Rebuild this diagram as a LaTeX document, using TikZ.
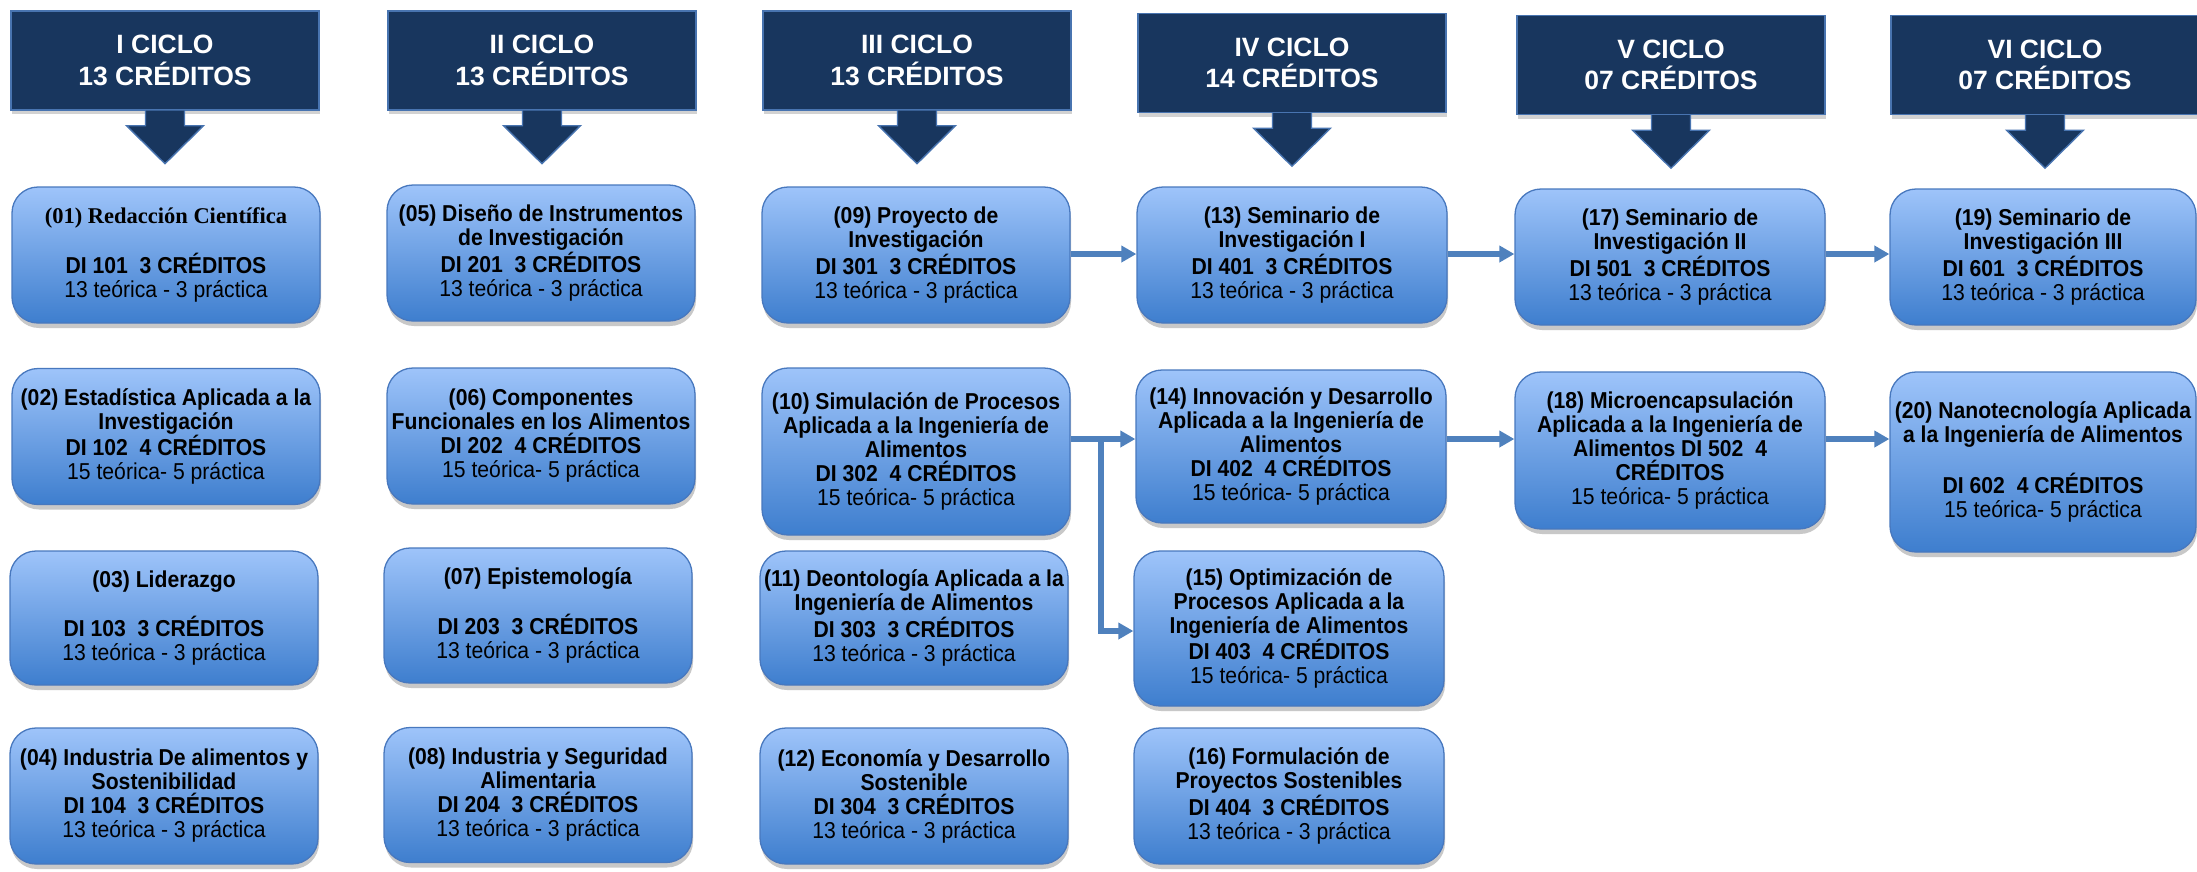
\documentclass[tikz,border=0pt]{standalone}
\usepackage{fontspec}
\setmainfont{Liberation Sans}[FakeStretch=0.92]
\newfontfamily\hdrfont{Liberation Sans}
\newfontfamily\serifb{Liberation Serif}
\usetikzlibrary{shadows,arrows.meta,calc}
\definecolor{navy}{RGB}{24,54,94}
\definecolor{navyedge}{RGB}{72,116,176}
\definecolor{boxtop}{RGB}{158,196,250}
\definecolor{boxbot}{RGB}{62,126,206}
\definecolor{boxedge}{RGB}{72,120,190}
\definecolor{conncol}{RGB}{79,129,189}
\tikzset{
  hdr/.style={draw=navyedge, line width=1.4pt, fill=navy, text=white,
    font=\hdrfont\bfseries\fontsize{26.5}{31.7}\selectfont, align=center,
    minimum width=308pt, minimum height=99pt, inner sep=0pt,
    drop shadow={shadow xshift=1pt, shadow yshift=-4pt, opacity=0.25, fill=black!70}},
  hdrarrow/.style={draw=navyedge, line width=1.4pt, fill=navy, line join=miter},
  course/.style={draw=boxedge, line width=1.3pt, rounded corners=26pt,
    top color=boxtop, bottom color=boxbot, align=center,
    font=\fontsize{23}{24}\selectfont, inner sep=2pt,
    minimum width=308pt,
    drop shadow={shadow xshift=1pt, shadow yshift=-5pt, opacity=0.3, fill=black!70}},
  link/.style={draw=conncol, line width=6pt, -{Triangle[length=15pt,width=16pt]}}
}
\newcommand\dropArrow[1]{%
  \path[hdrarrow] ($(#1.south)+(-19.5,0)$) -- ($(#1.south)+(-19.5,15)$) -- ($(#1.south)+(-38.5,15)$)
    -- ($(#1.south)+(0,53)$) -- ($(#1.south)+(38.5,15)$) -- ($(#1.south)+(19.5,15)$) -- ($(#1.south)+(19.5,0)$);}
\begin{document}
\begin{tikzpicture}[x=1pt,y=-1pt]
\useasboundingbox[fill=white] (0,0) rectangle (2197,871);

% headers
\node[hdr] (h1) at (165,60.5) {I CICLO\\13 CRÉDITOS};
\node[hdr] (h2) at (542,60.5) {II CICLO\\13 CRÉDITOS};
\node[hdr] (h3) at (917,60.5) {III CICLO\\13 CRÉDITOS};
\node[hdr] (h4) at (1292,63) {IV CICLO\\14 CRÉDITOS};
\node[hdr] (h5) at (1671,65) {V CICLO\\07 CRÉDITOS};
\node[hdr] (h6) at (2045,65) {VI CICLO\\07 CRÉDITOS};
\dropArrow{h1}\dropArrow{h2}\dropArrow{h3}\dropArrow{h4}\dropArrow{h5}\dropArrow{h6}

% row 1
\node[course, minimum height=136pt] (n01) at (166,255)
  {{\serifb\bfseries\fontsize{22.5}{24}\selectfont (01) Redacción Científica}\\[23pt]
   \textbf{DI 101~ 3 CRÉDITOS}\\ 13 teórica - 3 práctica};
\node[course, minimum height=136pt] (n05) at (541,253)
  {\textbf{(05) Diseño de Instrumentos}\\ \textbf{de Investigación}\\
   \textbf{DI 201~ 3 CRÉDITOS}\\ 13 teórica - 3 práctica};
\node[course, minimum height=136pt] (n09) at (916,255)
  {\textbf{(09) Proyecto de}\\ \textbf{Investigación}\\
   \textbf{DI 301~ 3 CRÉDITOS}\\ 13 teórica - 3 práctica};
\node[course, minimum height=136pt, minimum width=310pt] (n13) at (1292,255)
  {\textbf{(13) Seminario de}\\ \textbf{Investigación I}\\
   \textbf{DI 401~ 3 CRÉDITOS}\\ 13 teórica - 3 práctica};
\node[course, minimum height=136pt, minimum width=310pt] (n17) at (1670,257)
  {\textbf{(17) Seminario de}\\ \textbf{Investigación II}\\
   \textbf{DI 501~ 3 CRÉDITOS}\\ 13 teórica - 3 práctica};
\node[course, minimum height=136pt, minimum width=306pt] (n19) at (2043,257)
  {\textbf{(19) Seminario de}\\ \textbf{Investigación III}\\
   \textbf{DI 601~ 3 CRÉDITOS}\\ 13 teórica - 3 práctica};

% row 2
\node[course, minimum height=136pt] (n02) at (166,436.5)
  {\textbf{(02) Estadística Aplicada a la}\\ \textbf{Investigación}\\
   \textbf{DI 102~ 4 CRÉDITOS}\\ 15 teórica- 5 práctica};
\node[course, minimum height=136pt] (n06) at (541,436)
  {\textbf{(06) Componentes}\\ \textbf{Funcionales en los Alimentos}\\
   \textbf{DI 202~ 4 CRÉDITOS}\\ 15 teórica- 5 práctica};
\node[course, minimum height=167pt] (n10) at (916,451.5)
  {\textbf{(10) Simulación de Procesos}\\ \textbf{Aplicada a la Ingeniería de}\\ \textbf{Alimentos}\\
   \textbf{DI 302~ 4 CRÉDITOS}\\ 15 teórica- 5 práctica};
\node[course, minimum height=153pt, minimum width=310pt] (n14) at (1291,446.5)
  {\textbf{(14) Innovación y Desarrollo}\\ \textbf{Aplicada a la Ingeniería de}\\ \textbf{Alimentos}\\
   \textbf{DI 402~ 4 CRÉDITOS}\\ 15 teórica- 5 práctica};
\node[course, minimum height=157pt, minimum width=310pt] (n18) at (1670,450.5)
  {\textbf{(18) Microencapsulación}\\ \textbf{Aplicada a la Ingeniería de}\\ \textbf{Alimentos DI 502~ 4}\\
   \textbf{CRÉDITOS}\\ 15 teórica- 5 práctica};
\node[course, minimum height=180pt, minimum width=306pt] (n20) at (2043,462)
  {\textbf{(20) Nanotecnología Aplicada}\\ \textbf{a la Ingeniería de Alimentos}\\[24pt]
   \textbf{DI 602~ 4 CRÉDITOS}\\ 15 teórica- 5 práctica};

% row 3
\node[course, minimum height=134pt] (n03) at (164,618)
  {\textbf{(03) Liderazgo}\\[23pt]
   \textbf{DI 103~ 3 CRÉDITOS}\\ 13 teórica - 3 práctica};
\node[course, minimum height=135pt] (n07) at (538,615.5)
  {\textbf{(07) Epistemología}\\[23pt]
   \textbf{DI 203~ 3 CRÉDITOS}\\ 13 teórica - 3 práctica};
\node[course, minimum height=134pt] (n11) at (914,618)
  {\textbf{(11) Deontología Aplicada a la}\\ \textbf{Ingeniería de Alimentos}\\
   \textbf{DI 303~ 3 CRÉDITOS}\\ 13 teórica - 3 práctica};
\node[course, minimum height=155pt, minimum width=310pt] (n15) at (1289,628.5)
  {\textbf{(15) Optimización de}\\ \textbf{Procesos Aplicada a la}\\ \textbf{Ingeniería de Alimentos}\\
   \textbf{DI 403~ 4 CRÉDITOS}\\ 15 teórica- 5 práctica};

% row 4
\node[course, minimum height=136pt] (n04) at (164,796)
  {\textbf{(04) Industria De alimentos y}\\ \textbf{Sostenibilidad}\\
   \textbf{DI 104~ 3 CRÉDITOS}\\ 13 teórica - 3 práctica};
\node[course, minimum height=135pt] (n08) at (538,795)
  {\textbf{(08) Industria y Seguridad}\\ \textbf{Alimentaria}\\
   \textbf{DI 204~ 3 CRÉDITOS}\\ 13 teórica - 3 práctica};
\node[course, minimum height=136pt] (n12) at (914,796)
  {\textbf{(12) Economía y Desarrollo}\\ \textbf{Sostenible}\\
   \textbf{DI 304~ 3 CRÉDITOS}\\ 13 teórica - 3 práctica};
\node[course, minimum height=136pt, minimum width=310pt] (n16) at (1289,796)
  {\textbf{(16) Formulación de}\\ \textbf{Proyectos Sostenibles}\\
   \textbf{DI 404~ 3 CRÉDITOS}\\ 13 teórica - 3 práctica};

% connectors
\coordinate (r1) at (0,254);
\coordinate (r2) at (0,439);
\coordinate (r3) at (0,631);
\coordinate (br) at (1101,436);
\draw[link] (n09.east |- r1) -- (n13.west |- r1);
\draw[link] (n13.east |- r1) -- (n17.west |- r1);
\draw[link] (n17.east |- r1) -- (n19.west |- r1);
\draw[link] (n10.east |- r2) -- (n14.west |- r2);
\draw[link] (br) |- (n15.west |- r3);
\draw[link] (n14.east |- r2) -- (n18.west |- r2);
\draw[link] (n18.east |- r2) -- (n20.west |- r2);
\end{tikzpicture}
\end{document}
